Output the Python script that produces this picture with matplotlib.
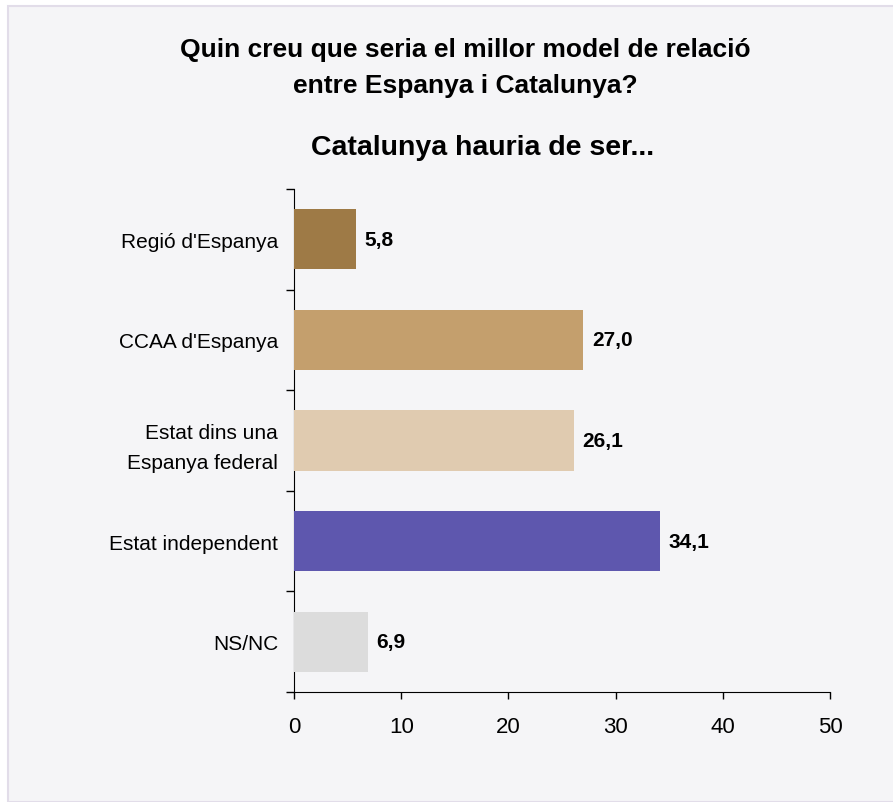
"""Horizontal bar chart: preferred model of relation between Spain and Catalonia."""

import matplotlib.pyplot as plt
from matplotlib.patches import Rectangle

plt.rcParams["font.family"] = ["Liberation Sans", "DejaVu Sans"]

CATEGORIES = [
    "Regió d'Espanya",
    "CCAA d'Espanya",
    "Estat dins una\nEspanya federal",
    "Estat independent",
    "NS/NC",
]
VALUES = [5.8, 27.0, 26.1, 34.1, 6.9]
BAR_COLORS = ["#9e7a46", "#c49f6d", "#e0cbb0", "#5e57ae", "#dcdcdc"]
X_TICKS = [0, 10, 20, 30, 40, 50]

W, H = 893, 803

fig = plt.figure(figsize=(W / 100, H / 100), dpi=100, facecolor="white")

# panel background with thin lavender edge
fig.patches.append(
    Rectangle((8 / W, 0), 1, 1 - 7 / H, transform=fig.transFigure,
              facecolor="#f5f5f7", edgecolor="#e2dde9", linewidth=1.5, zorder=-5)
)

ax = fig.add_axes([294 / W, 1 - 693 / H, (830 - 294) / W, (693 - 190) / H])
ax.set_facecolor("none")

positions = list(range(len(CATEGORIES)))
ax.barh(positions, VALUES, height=0.6, color=BAR_COLORS, zorder=3)
for pos, val in zip(positions, VALUES):
    ax.text(val + 0.8, pos, f"{val:.1f}".replace(".", ","), va="center", ha="left",
            fontsize=15, fontweight="bold", color="black")

ax.set_ylim(len(CATEGORIES) - 0.5, -0.5)
ax.set_xlim(0, 50)
ax.set_xticks(X_TICKS)
ax.set_xticklabels([str(t) for t in X_TICKS], fontsize=16)
ax.set_yticks([p - 0.5 for p in positions] + [len(CATEGORIES) - 0.5])
ax.set_yticklabels([])
ax.set_yticks(positions, minor=True)
ax.set_yticklabels(CATEGORIES, minor=True, fontsize=15, linespacing=1.7)
ax.tick_params(axis="y", which="minor", length=0, pad=11.5)
ax.tick_params(axis="y", which="major", length=6, width=1)
ax.tick_params(axis="x", length=5, width=1, pad=12)

for spine in ["top", "right"]:
    ax.spines[spine].set_visible(False)

fig.text(465 / W, 1 - 68 / H,
         "Quin creu que seria el millor model de relació\nentre Espanya i Catalunya?",
         ha="center", va="center", fontsize=19, fontweight="bold", linespacing=1.6)
fig.text(483 / W, 1 - 148 / H, "Catalunya hauria de ser...",
         ha="center", va="center", fontsize=20.5, fontweight="bold")

fig.savefig("out.png", dpi=100, facecolor=fig.get_facecolor())
